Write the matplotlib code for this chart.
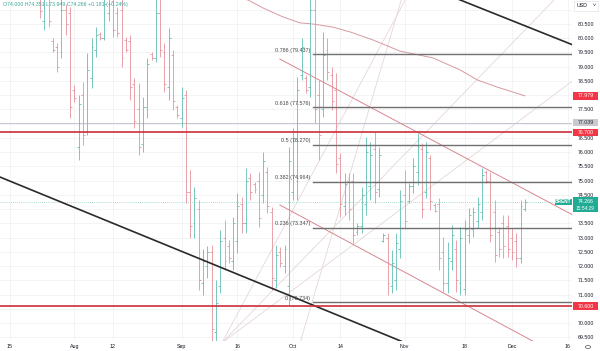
import matplotlib
matplotlib.use("Agg")
from matplotlib import pyplot as plt
from matplotlib.patches import Rectangle, Circle
from matplotlib.transforms import blended_transform_factory

plt.rcParams['font.family'] = ['Liberation Sans', 'DejaVu Sans']

# Brent daily bars (6 bars a week), index 0 = first bar
opens = [84.9, 85.0, 84.8, 84.6, 84.2, 83.6, 84.0, 83.4, 82.8, 81.6,
         80.6, 81.5, 79.9, 79.7, 79.5, 81.0, 80.9, 78.2, 76.2, 78.0,
         76.7, 78.6, 79.6, 80.15, 80.0, 80.9, 81.3, 80.9, 81.0, 79.95,
         79.9, 78.4, 77.5, 76.3, 77.6, 79.45, 79.3, 80.9, 79.5, 78.3,
         79.4, 77.6, 77.2, 78.0, 74.6, 73.5, 74.0, 71.4, 72.0, 72.5,
         69.7, 71.3, 73.0, 72.7, 72.2, 72.9, 74.2, 73.5, 75.1, 74.9,
         75.0, 74.5, 75.3, 73.9, 71.5, 72.5, 72.0, 71.3, 74.6, 75.0,
         78.7, 78.6, 78.3, 81.0, 78.0, 77.5, 79.6, 78.7, 78.2, 75.8,
         74.1, 75.0, 75.0, 73.2, 73.4, 74.2, 74.8, 76.1, 74.7, 72.9,
         73.0, 71.3, 71.5, 72.6, 74.5, 74.3, 74.8, 75.3, 76.1, 74.6,
         75.8, 74.15, 74.2, 72.5, 71.4, 72.2, 72.6, 71.4, 71.2, 73.1,
         73.3, 73.6, 73.9, 75.3, 75.0, 73.9, 73.2, 73.5, 73.4, 73.0,
         72.9, 72.3, 74.0]
highs = [85.4, 85.3, 85.2, 85.0, 84.5, 84.2, 84.3, 83.8, 83.1, 81.8,
         81.7, 81.9, 80.01, 79.83, 81.5, 81.2, 81.1, 78.36, 78.01, 78.46,
         79.48, 80.01, 80.39, 80.22, 81.5, 81.6, 81.6, 81.1, 81.4, 80.04,
         80.11, 78.61, 78.43, 77.94, 79.31, 79.52, 81.5, 81.4, 79.83, 80.36,
         79.59, 77.66, 78.29, 78.18, 75.38, 74.78, 74.32, 72.6, 72.7, 72.75,
         71.52, 73.27, 73.62, 72.92, 73.73, 74.57, 74.43, 75.45, 75.27, 74.96,
         75.31, 76.01, 75.48, 74.08, 72.75, 72.68, 72.75, 76.18, 76.85, 78.64,
         80.01, 78.71, 81.8, 81.6, 78.54, 80.22, 80.01, 78.99, 78.78, 75.97,
         75.27, 75.27, 75.27, 73.52, 74.78, 76.54, 76.36, 76.71, 76.18, 73.17,
         73.17, 72.57, 73.17, 74.68, 75.38, 74.92, 75.80, 76.68, 76.32, 76.36,
         75.90, 74.22, 74.39, 73.03, 72.85, 73.45, 72.92, 73.38, 73.62, 74.04,
         74.08, 74.43, 75.45, 75.38, 75.31, 74.32, 73.38, 73.80, 73.80, 73.34,
         73.17, 74.32, 74.351]
lows = [84.5, 84.6, 84.3, 84.0, 83.4, 83.3, 83.2, 82.5, 81.8, 80.71,
        80.29, 80.39, 79.52, 78.82, 79.31, 80.1, 77.2, 77.76, 75.73, 76.25,
        76.61, 78.25, 79.34, 79.94, 79.94, 80.6, 80.04, 80.04, 78.99, 79.52,
        77.83, 76.85, 75.90, 76.01, 77.20, 79.24, 79.17, 79.34, 78.11, 77.83,
        77.48, 77.20, 76.89, 74.22, 72.99, 72.99, 71.17, 71.0, 71.6, 69.1,
        69.2, 71.06, 71.87, 72.11, 71.87, 72.46, 73.17, 73.17, 74.32, 74.57,
        73.38, 74.22, 73.87, 71.17, 71.24, 71.97, 71.76, 70.64, 74.32, 74.32,
        78.54, 78.08, 77.94, 77.03, 75.73, 77.24, 78.54, 77.48, 75.27, 73.73,
        73.80, 73.62, 72.82, 73.10, 73.17, 73.80, 74.32, 74.22, 74.43, 72.85,
        70.99, 71.06, 71.17, 72.29, 73.34, 74.22, 74.57, 74.85, 73.69, 74.39,
        73.97, 73.90, 71.87, 71.10, 71.06, 71.87, 71.10, 70.99, 70.99, 72.82,
        73.03, 73.34, 73.62, 74.92, 72.85, 72.15, 72.32, 72.29, 72.32, 72.22,
        71.97, 72.11, 73.949]
closes = [85.0, 84.8, 84.6, 84.2, 83.6, 84.0, 83.4, 82.8, 82.1, 80.95,
          81.4, 80.6, 79.6, 79.0, 81.0, 80.5, 77.6, 77.9, 77.7, 76.6,
          78.9, 79.7, 80.1, 80.0, 81.2, 81.4, 80.3, 80.2, 79.3, 79.6,
          78.3, 77.1, 76.2, 77.6, 79.1, 79.3, 80.9, 79.6, 78.4, 80.0,
          77.8, 77.3, 77.9, 74.6, 73.4, 74.4, 71.5, 72.2, 72.5, 69.8,
          70.7, 72.9, 72.2, 72.3, 73.5, 74.1, 73.5, 75.0, 74.6, 74.7,
          73.7, 75.7, 74.1, 71.6, 72.4, 72.1, 72.6, 75.7, 76.4, 78.2,
          79.7, 78.2, 81.0, 77.5, 76.6, 79.4, 78.8, 77.8, 75.6, 74.2,
          74.9, 74.0, 73.1, 73.4, 74.5, 76.0, 75.9, 74.6, 75.9, 73.1,
          71.4, 72.1, 72.8, 74.3, 73.6, 74.8, 75.5, 76.2, 74.0, 76.0,
          74.3, 73.95, 72.3, 71.4, 72.3, 73.1, 71.5, 73.0, 73.3, 73.8,
          73.9, 74.2, 75.2, 75.0, 73.1, 72.4, 72.6, 72.7, 72.6, 72.5,
          72.3, 74.1, 74.266]

date_pos = [2, 17, 26, 42, 55, 68, 79, 94, 108, 119, 132]
date_labels = ['15', 'Aug', '12', 'Sep', '16', 'Oct', '14', 'Nov', '18', 'Dec', '16']

# moving average
ma_x = [55, 57.5, 61, 65.6, 69.6, 72.6, 77.3, 81.3, 86.6, 92.9, 100.6, 106.9, 110.9, 115.5, 122]
ma_y = [81.45, 81.34, 81.06, 80.75, 80.54, 80.50, 80.39, 80.22, 79.94, 79.55, 79.31, 78.89, 78.54, 78.29, 77.979]

# fibonacci retracement
fib_ratio = ['0.786', '0.618', '0.5', '0.382', '0.236', '0']
fib_price = [79.437, 77.576, 76.270, 74.964, 73.347, 70.734]
fib_start = 72.6

# drawn trend lines: ((x0, y0), (x1, y1))
black_lines = [((100, 81.76), (133.3, 79.76)), ((-0.5, 75.14), (100, 68.95))]
channel_lines = [((64.9, 79.27), (133.3, 73.79)), ((64.9, 74.15), (126, 69.2))]
fan_lines = [((51.4, 69.31), (94.1, 81.34)), ((51.4, 69.31), (128.8, 81.34)),
             ((51.4, 69.31), (133.3, 78.52)), ((69.6, 69.31), (93.2, 81.34))]

support = [76.7, 70.6]
prev_close = 77.039
last_price = 74.266

price_ticks = [69.5, 70.0, 71.0, 71.5, 72.0, 72.5, 73.0, 73.5, 74.5, 75.0,
               75.5, 76.0, 76.5, 77.5, 78.5, 79.0, 79.5, 80.0, 80.5]

up_col = '#62bfb2'
dn_col = '#e4939a'

fig = plt.figure(figsize=(6, 3.51), dpi=100)
ax = fig.add_axes([0, 10 / 351, 572 / 600, 341 / 351])
ax.set_xlim(-0.33, 133.0)
ax.set_ylim(69.377, 81.342)

# grid
for p in date_pos:
    ax.axvline(p, color='#f0f2f5', lw=0.6, zorder=0)
for v in [69.5 + 0.5 * k for k in range(24)]:
    ax.axhline(v, color='#f0f2f5', lw=0.6, zorder=0)

# fan lines (light)
for (x0, y0), (x1, y1) in fan_lines:
    ax.plot([x0, x1], [y0, y1], color='#e4d3d5', lw=0.55, zorder=1)

ax.axhline(prev_close, color='#c3c6cc', lw=0.7, zorder=1)
ax.axhline(last_price, color='#8fd0c6', lw=0.6, ls=(0, (1, 1.5)), zorder=1)

# OHLC bars
xs = list(range(len(opens)))
cols = [up_col if c >= o else dn_col for o, c in zip(opens, closes)]
ax.vlines(xs, lows, highs, colors=cols, lw=0.6, zorder=3)
ax.hlines(opens, [x - 0.45 for x in xs], xs, colors=cols, lw=0.6, zorder=3)
ax.hlines(closes, xs, [x + 0.45 for x in xs], colors=cols, lw=0.6, zorder=3)

# moving average
ax.plot(ma_x, ma_y, color='#d69aa0', lw=0.7, zorder=2)

# channel
for (x0, y0), (x1, y1) in channel_lines:
    ax.plot([x0, x1], [y0, y1], color='#d9868e', lw=0.7, zorder=2)

# heavy trend lines
for (x0, y0), (x1, y1) in black_lines:
    ax.plot([x0, x1], [y0, y1], color='#2a2a2a', lw=1.2, zorder=4)

for s in support:
    ax.axhline(s, color='#cc2f3b', lw=1.2, zorder=4)

# fib levels
for r, p in zip(fib_ratio, fib_price):
    ax.plot([fib_start, 133.0], [p, p], color='#707070', lw=1.0, zorder=4)
    ax.text(fib_start - 0.6, p + 0.15, f'{r} ({p:.3f})', fontsize=3.9,
            color='#444444', ha='right', va='center', zorder=5)

ax.text(0.3, 81.17, 'O74.000 H74.351 L73.949 C74.266 +0.181 (+0.24%)',
        fontsize=3.8, color='#3aa596', ha='left', va='center')

# axes
for sp in ax.spines.values():
    sp.set_visible(False)
ax.yaxis.tick_right()
ax.set_yticks(price_ticks)
ax.set_yticklabels([f'{v:.3f}' for v in price_ticks])
ax.set_xticks(date_pos)
ax.set_xticklabels(date_labels)
ax.tick_params(axis='both', length=0, labelsize=3.8, colors='#131722')
ax.tick_params(axis='y', pad=4)
ax.tick_params(axis='x', pad=2)

# price tags on the scale
tr = blended_transform_factory(ax.transAxes, ax.transData)


def tag(price, text, bg, fg, x0=1.0017, x1=1.0455, h=0.13):
    ax.add_patch(Rectangle((x0, price - h), x1 - x0, 2 * h, transform=tr,
                           facecolor=bg, edgecolor='none', clip_on=False, zorder=6))
    ax.text((x0 + x1) / 2, price, text, transform=tr, fontsize=3.8, color=fg,
            ha='center', va='center', clip_on=False, zorder=7)


tag(77.979, '77.979', '#f23645', 'white')
tag(prev_close, '77.039', '#c8cad0', '#2a2e39')
tag(76.7, '76.700', '#f23645', 'white')
tag(70.6, '70.600', '#f23645', 'white')

ax.add_patch(Rectangle((1.0017, 73.90), 0.0438, 0.54, transform=tr,
                       facecolor='#22ab94', edgecolor='none', clip_on=False, zorder=6))
ax.text(1.0236, 74.28, '74.266', transform=tr, fontsize=3.8, color='white',
        ha='center', va='center', clip_on=False, zorder=7)
ax.text(1.0236, 74.03, '15:54:29', transform=tr, fontsize=3.4, color='white',
        ha='center', va='center', clip_on=False, zorder=7)
ax.add_patch(Rectangle((0.970, 74.15), 0.0295, 0.22, transform=tr,
                       facecolor='#22ab94', edgecolor='none', clip_on=False, zorder=6))
ax.text(0.9848, 74.26, 'BRENT', transform=tr, fontsize=3.4, color='white',
        ha='center', va='center', clip_on=False, zorder=7, fontweight='bold')

# USD selector and settings icon
fig.patches.append(Rectangle((574 / 600, 1 - 11 / 351), 24 / 600, 10 / 351,
                             transform=fig.transFigure, facecolor='white',
                             edgecolor='#e0e3eb', lw=0.5))
fig.text(577 / 600, 1 - 5.5 / 351, 'USD', fontsize=3.8, color='#131722', va='center')
fig.text(593 / 600, 1 - 5.5 / 351, '\u02c5', fontsize=3.8, color='#131722', va='center')
fig.patches.append(Circle((588 / 600, 1 - 347 / 351), 2.6 / 600,
                          transform=fig.transFigure, facecolor='none',
                          edgecolor='#555555', lw=0.5))

fig.savefig('out.png', dpi=100)
